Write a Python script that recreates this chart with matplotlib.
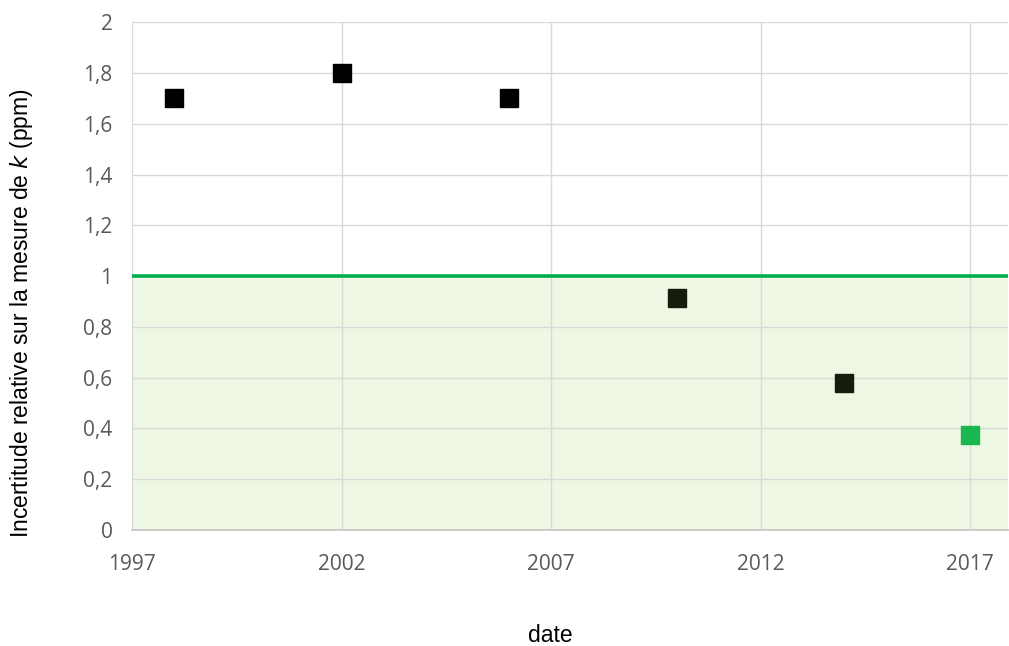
import matplotlib.pyplot as plt
from matplotlib.ticker import FuncFormatter

years = [1998, 2002, 2006, 2010, 2014, 2017]
incertitude = [1.70, 1.80, 1.70, 0.915, 0.578, 0.375]
couleurs = ['#000000', '#000000', '#000000', '#141c0c', '#141c0c', '#1ab64f']

seuil = 1.0
xticks = [1997, 2002, 2007, 2012, 2017]
yticks = [0, 0.2, 0.4, 0.6, 0.8, 1, 1.2, 1.4, 1.6, 1.8, 2]

fig = plt.figure(figsize=(10.09, 6.46), dpi=100)
ax = fig.add_axes([0.1308, 0.1796, 0.868, 0.786])

xmin, xmax = 1997, 2017.9
ax.axhspan(0, seuil, color='#eef7e3', zorder=0)
ax.axhline(seuil, color='#00b050', lw=2.6, zorder=2)

for x, y, c in zip(years, incertitude, couleurs):
    ax.plot(x, y, marker='s', ms=12.5, color=c, mec=c, ls='none', zorder=3)

ax.set_xlim(xmin, xmax)
ax.set_ylim(0, 2)
ax.set_xticks(xticks)
ax.set_yticks(yticks)
ax.yaxis.set_major_formatter(FuncFormatter(lambda v, p: ('%g' % v).replace('.', ',')))
ax.grid(True, color='#d9d9d9', lw=1, zorder=1)
ax.set_axisbelow(True)

for s in ['top', 'right', 'left']:
    ax.spines[s].set_visible(False)
ax.spines['bottom'].set_color('#c8c8c8')
ax.spines['bottom'].set_linewidth(1.3)
ax.tick_params(length=0, labelsize=15, labelcolor='#595959')
ax.tick_params(axis='x', pad=17)
ax.tick_params(axis='y', pad=14)
for lab in ax.get_xticklabels() + ax.get_yticklabels():
    lab.set_family('Open Sans')

ax.set_xlabel('date', fontsize=16.5, family='Liberation Sans', va='center')
ax.set_ylabel('Incertitude relative sur la mesure de $\\it{k}$ (ppm)', fontsize=16.5,
              family='Liberation Sans', va='center')
ax.xaxis.set_label_coords(0.478, -0.207)
ax.yaxis.set_label_coords(-0.1256, 0.427)

fig.savefig('out.png', dpi=100)
